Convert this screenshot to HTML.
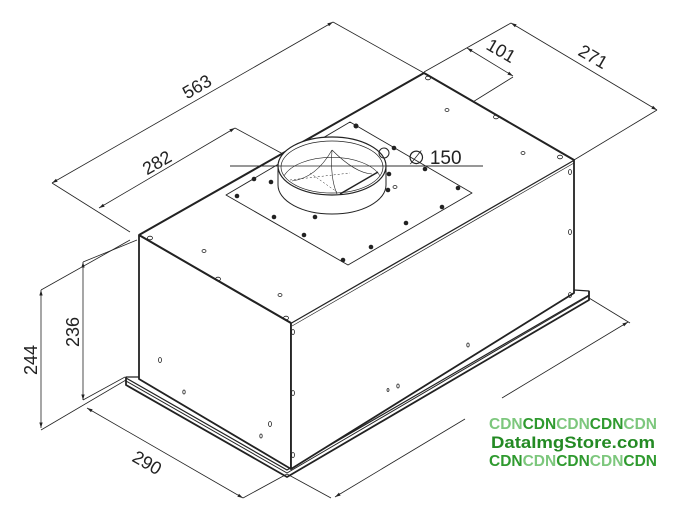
<!DOCTYPE html>
<html><head><meta charset="utf-8"><style>
html,body{margin:0;padding:0;background:#fff;}
svg{display:block;}
text{font-family:"Liberation Sans",sans-serif;}
</style></head><body>
<svg width="678" height="520" viewBox="0 0 678 520" xmlns="http://www.w3.org/2000/svg">
<defs>
<marker id="a" viewBox="0 0 10 10" refX="10" refY="5" markerWidth="7" markerHeight="7" orient="auto-start-reverse"><path d="M0,2 L10,5 L0,8 z" fill="#222"/></marker>
</defs>
<g stroke="#222" stroke-width="0.8" fill="none">
<line x1="130" y1="232" x2="52" y2="183"/>
<line x1="424" y1="73" x2="333" y2="22"/>
<line x1="52" y1="183" x2="333" y2="22" marker-start="url(#a)" marker-end="url(#a)"/>
<line x1="99" y1="208" x2="235" y2="128" marker-start="url(#a)" marker-end="url(#a)"/>
<line x1="235" y1="128" x2="283" y2="154"/>
<line x1="424" y1="72" x2="511" y2="23"/>
<line x1="511" y1="23" x2="657" y2="110" marker-start="url(#a)" marker-end="url(#a)"/>
<line x1="657" y1="110" x2="574" y2="160"/>
<line x1="467" y1="48" x2="513" y2="76" marker-start="url(#a)" marker-end="url(#a)"/>
<line x1="513" y1="77" x2="476" y2="100"/>
<line x1="476" y1="100" x2="375" y2="160" stroke-dasharray="2,2"/>
<line x1="41" y1="290" x2="130" y2="240"/>
<line x1="41" y1="430" x2="126" y2="380"/>
<line x1="41" y1="290" x2="41" y2="428" marker-start="url(#a)" marker-end="url(#a)"/>
<line x1="83" y1="262" x2="137" y2="240"/>
<line x1="83" y1="400" x2="125" y2="377"/>
<line x1="83" y1="262" x2="83" y2="400" marker-start="url(#a)" marker-end="url(#a)"/>
<line x1="87" y1="408" x2="243" y2="498" marker-start="url(#a)" marker-end="url(#a)"/>
<line x1="287" y1="474" x2="243" y2="498"/>
<line x1="287" y1="474" x2="331" y2="498"/>
<line x1="335" y1="497" x2="465" y2="419" marker-start="url(#a)"/>
<line x1="502" y1="398" x2="628" y2="322" marker-end="url(#a)"/>
<line x1="589" y1="298" x2="630" y2="323"/>
</g>
<g stroke="#222" fill="none" stroke-linejoin="round">
<polygon points="126,378 287,470 589,295 589,291 574,290 574,293 291,467 139,377 126,377" fill="#fff" stroke-width="1.2"/>
<polyline points="126,377 126,385 287,477 589,300 589,291" stroke-width="1.8"/>
<line x1="126" y1="381" x2="287" y2="473" stroke-width="1"/>
<line x1="287" y1="473" x2="589" y2="296" stroke-width="1"/>
<polygon points="139,235 291,323 291,469 139,379" fill="#fff" stroke-width="1.8"/>
<polygon points="291,323 574,160 574,293 291,469" fill="#fff" stroke-width="1.8"/>
<polygon points="139,235 424,73 574,160 291,323" fill="#fff" stroke-width="0"/>
<polyline points="139,235 424,73 574,160" stroke-width="2"/>
<line x1="139" y1="235" x2="291" y2="323" stroke-width="2"/>
<line x1="291" y1="323" x2="574" y2="160" stroke-width="0.7"/>
<line x1="292" y1="326" x2="574" y2="163" stroke-width="0.7"/>
<polygon points="226,195 350,122 472,193 348,265" stroke-width="0.9" fill="#fff"/>
<line x1="230" y1="166" x2="483" y2="166" stroke-width="0.8"/>
<path d="M278,166 L278,185 A54,29 0 0 0 386,185 L386,166" fill="#fff" stroke-width="1"/>
<ellipse cx="332" cy="166" rx="54" ry="29" fill="#fff" stroke-width="1.2"/>
<ellipse cx="332" cy="167" rx="51" ry="26" stroke-width="0.7"/>
<path d="M284,176 A50,26 0 0 1 380,176" stroke-width="0.6"/>
<path d="M332,150 Q330,178 337,194 M332,150 Q316,178 292,181 M332,150 Q355,173 372,174" stroke-width="0.6"/>
<line x1="340" y1="194" x2="378" y2="172" stroke-width="1.5"/>
<line x1="310" y1="173" x2="337" y2="192" stroke-width="0.5" stroke-dasharray="2,2"/>
<line x1="290" y1="180" x2="350" y2="173" stroke-width="0.5" stroke-dasharray="2,2"/>
<circle cx="384" cy="153" r="5" stroke-width="1"/>
</g>
<line x1="230" y1="166" x2="483" y2="166" stroke="#222" stroke-width="0.8"/>
<g fill="#222">
<circle cx="356" cy="126" r="2.5"/><circle cx="394" cy="148" r="2.3"/><circle cx="425" cy="169" r="2.3"/>
<circle cx="458" cy="188" r="2.3"/><circle cx="442" cy="207" r="2.3"/><circle cx="406" cy="223" r="2.3"/>
<circle cx="371" cy="247" r="2.3"/><circle cx="343" cy="260" r="2.3"/><circle cx="304" cy="235" r="2.3"/>
<circle cx="274" cy="217" r="2.3"/><circle cx="237" cy="196" r="2.3"/><circle cx="254" cy="179" r="2.3"/>
<circle cx="271" cy="182" r="2.3"/><circle cx="315" cy="217" r="2.3"/><circle cx="389" cy="174" r="2.3"/>
<circle cx="388" cy="190" r="2.3"/>
</g>
<g fill="none" stroke="#222" stroke-width="0.8">
<ellipse cx="150" cy="238" rx="2.5" ry="1.8"/><ellipse cx="204" cy="251" rx="2" ry="1.5"/><ellipse cx="218" cy="279" rx="2.5" ry="1.8"/>
<ellipse cx="280" cy="295" rx="2" ry="1.5"/><ellipse cx="286" cy="318" rx="2.5" ry="1.8"/><ellipse cx="428" cy="78" rx="2.5" ry="1.8"/>
<ellipse cx="496" cy="117" rx="2.5" ry="1.8"/><ellipse cx="523" cy="153" rx="2" ry="1.5"/><ellipse cx="560" cy="157" rx="2.5" ry="1.8"/>
<ellipse cx="447" cy="110" rx="2" ry="1.5"/><ellipse cx="395" cy="187" rx="2" ry="1.5"/>
<ellipse cx="160" cy="360" rx="1.5" ry="2.5"/><ellipse cx="184" cy="392" rx="1.2" ry="2"/><ellipse cx="270" cy="424" rx="1.5" ry="2.5"/>
<ellipse cx="261" cy="436" rx="1.2" ry="2"/><ellipse cx="293" cy="332" rx="1.5" ry="2.5"/><ellipse cx="293" cy="393" rx="1.5" ry="2.5"/>
<ellipse cx="293" cy="455" rx="1.5" ry="2.5"/><ellipse cx="570" cy="172" rx="1.5" ry="2.5"/><ellipse cx="570" cy="232" rx="1.5" ry="2.5"/>
<ellipse cx="570" cy="295" rx="1.5" ry="2.5"/><ellipse cx="468" cy="345" rx="1.2" ry="2"/><ellipse cx="398" cy="386" rx="1.2" ry="2"/>
<ellipse cx="388" cy="390" rx="1" ry="1.5"/>
</g>
<g fill="#222" font-size="18">
<text transform="translate(200,92) rotate(-30)" text-anchor="middle">563</text>
<text transform="translate(160,168) rotate(-30)" text-anchor="middle">282</text>
<text transform="translate(498,56) rotate(30)" text-anchor="middle">101</text>
<text transform="translate(590,62) rotate(30)" text-anchor="middle">271</text>
<text x="408" y="164" font-size="19">∅ 150</text>
<text transform="translate(37,360) rotate(-90)" text-anchor="middle">244</text>
<text transform="translate(79,332) rotate(-90)" text-anchor="middle">236</text>
<text transform="translate(144,468) rotate(30)" text-anchor="middle">290</text>
</g>
<g font-weight="bold" font-size="15.5">
<text x="489" y="429" textLength="168" lengthAdjust="spacingAndGlyphs"><tspan fill="#7dc77d">CDN</tspan><tspan fill="#2f9a2f">CDN</tspan><tspan fill="#7dc77d">CDN</tspan><tspan fill="#2f9a2f">CDN</tspan><tspan fill="#7dc77d">CDN</tspan></text>
<text x="491" y="448" fill="#248a24" font-size="17" textLength="164" lengthAdjust="spacingAndGlyphs">DataImgStore.com</text>
<text x="489" y="466" textLength="168" lengthAdjust="spacingAndGlyphs"><tspan fill="#2f9a2f">CDN</tspan><tspan fill="#7dc77d">CDN</tspan><tspan fill="#2f9a2f">CDN</tspan><tspan fill="#7dc77d">CDN</tspan><tspan fill="#2f9a2f">CDN</tspan></text>
</g>
</svg>
</body></html>
